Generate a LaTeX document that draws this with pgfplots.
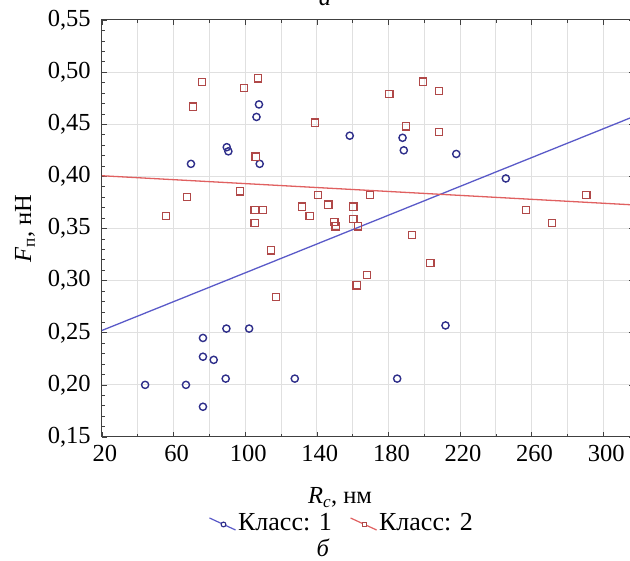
\documentclass[border=0pt]{standalone}
\usepackage{fontspec}
\setmainfont{Liberation Serif}
\usepackage{pgfplots}
\pgfplotsset{compat=1.18}

\definecolor{c1m}{HTML}{2E2E8A}
\definecolor{c1l}{HTML}{5A5AC8}
\definecolor{c2m}{HTML}{B04848}
\definecolor{c2l}{HTML}{E06060}
\definecolor{gridc}{HTML}{E0E0E0}
\definecolor{axc}{HTML}{404040}

\begin{document}
\fontsize{24.5}{28}\selectfont
\begin{tikzpicture}
\path[use as bounding box] (-102pt,-124pt) rectangle (528pt,437pt);
\begin{axis}[
  at={(0,0)}, anchor=south west, scale only axis,
  width=532pt, height=417pt,
  xmin=20, xmax=317.2, ymin=0.15, ymax=0.55,
  xtick={20,60,100,140,180,220,260,300},
  minor xtick={40,80,120,160,200,240,280},
  ytick={0.15,0.20,0.25,0.30,0.35,0.40,0.45,0.50,0.55},
  minor y tick num=4,
  xmajorgrids=true, xminorgrids=true, ymajorgrids=true, yminorgrids=false,
  major grid style={gridc, line width=1pt},
  minor grid style={gridc, line width=1pt},
  axis line style={axc, line width=1pt},
  tick align=inside,
  major tick length=5pt, minor tick length=3pt,
  tick style={axc, line width=0.6pt},
  yticklabel style={xshift=-3pt, /pgf/number format/.cd, fixed, fixed zerofill, precision=2, use comma},
  /pgf/number format/assume math mode=true,
  xticklabel style={xshift=3pt},
  xlabel={\textit{R}\textsubscript{\textit{c}}, нм},
  ylabel={\textit{F}\textsubscript{п}, нН},
  xlabel style={at={(axis description cs:0.4474,-0.146)}, anchor=center},
  ylabel style={at={(axis description cs:-0.1447,0.5)}, anchor=center, rotate=0},
  legend columns=2,
  legend style={at={(axis description cs:0.451,-0.2086)}, anchor=center, draw=none, fill=none,
    font=\fontsize{26}{30}\selectfont,
    /tikz/every even column/.append style={column sep=16pt}},
  clip=true,
]
\addplot[only marks, mark=o, mark size=3.6pt, c1m, mark options={line width=1.4pt},
  legend image code/.code={\draw[c1l, line width=1.2pt] (0pt,6pt) -- (26pt,-6pt); \draw[c1m, line width=1.1pt, fill=white] (14pt,-0.5pt) circle (2.4pt);}]
coordinates {
(44.1,0.200)(66.9,0.200)(76.4,0.245)(76.4,0.227)(82.4,0.224)(89.1,0.206)(76.4,0.179)
(89.5,0.254)(102.2,0.254)(127.7,0.206)(184.9,0.206)(211.9,0.257)(69.7,0.412)
(89.7,0.428)(90.6,0.424)(106.3,0.457)(107.7,0.469)(108.1,0.412)(158.4,0.439)
(187.9,0.437)(188.6,0.425)(217.9,0.4215)(245.6,0.398)
};
\addlegendentry{Класс: 1}
\addplot[only marks, mark=square, mark size=3.6pt, c2m, mark options={line width=1.2pt},
  legend image code/.code={\draw[c2l, line width=1.2pt] (0pt,6pt) -- (26pt,-6pt); \draw[c2m, line width=1.1pt, fill=white] (11.6pt,-2.9pt) rectangle (16.4pt,1.9pt);}]
coordinates {
(114.3,0.329)(117.1,0.2845)(162.2,0.2955)(168.2,0.3054)(203.5,0.3167)(193.3,0.3435)
(75.9,0.4905)(71.0,0.467)(99.4,0.485)(107.1,0.494)(105.8,0.419)(97.1,0.3855)
(67.5,0.380)(55.7,0.362)(105.3,0.368)(109.7,0.368)(105.3,0.3555)(138.9,0.4515)
(180.5,0.479)(199.3,0.491)(208.1,0.482)(189.9,0.448)(208.1,0.4426)(140.6,0.382)
(169.8,0.382)(131.7,0.371)(146.5,0.373)(136.0,0.362)(160.4,0.371)(160.4,0.359)
(149.8,0.356)(150.5,0.352)(163.0,0.352)(256.7,0.368)(271.5,0.3555)(290.6,0.382)
};
\addlegendentry{Класс: 2}
\addplot[c1l, line width=1.3pt, forget plot] coordinates {(20,0.2522)(317.2,0.4575)};
\addplot[c2l, line width=1.3pt, forget plot] coordinates {(20,0.4006)(317.2,0.3726)};
\end{axis}
\node[anchor=base] at (223pt,431pt) {\textit{а}};
\node at (221pt,-111pt) {\textit{б}};
\end{tikzpicture}
\end{document}
